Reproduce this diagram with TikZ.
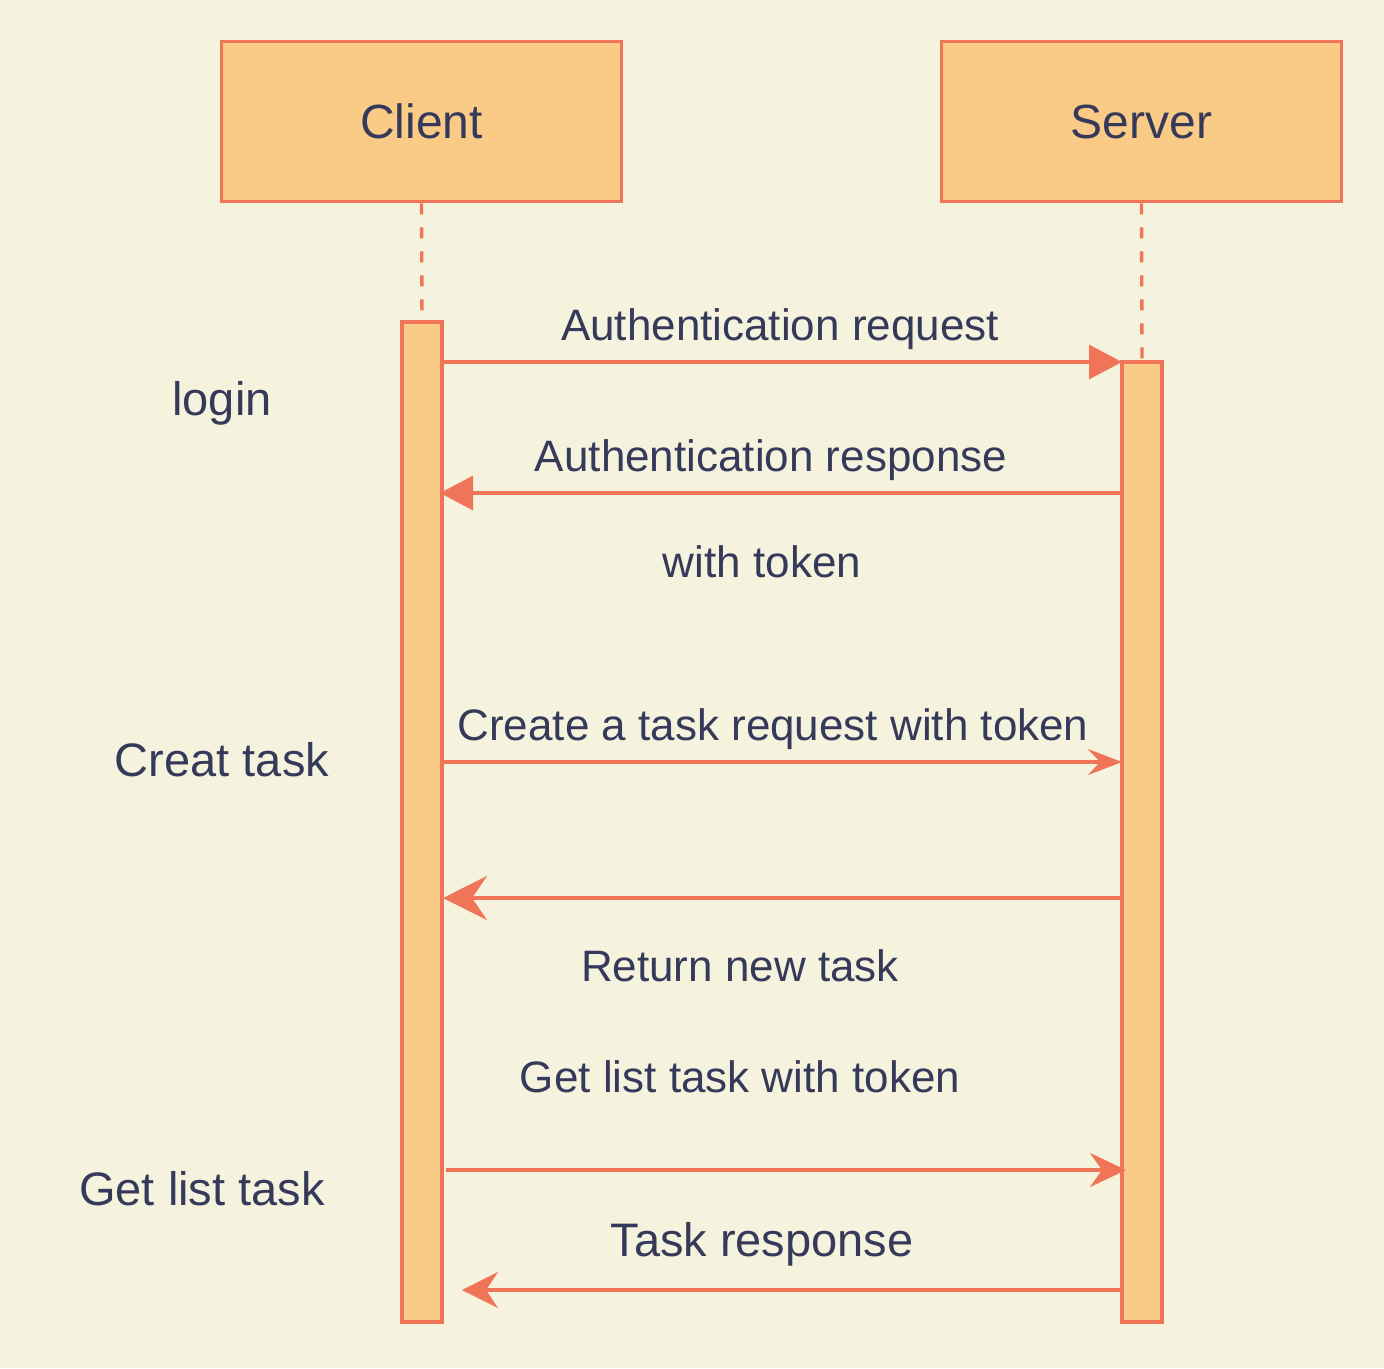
\documentclass[tikz,border=0pt]{standalone}
\usepackage{fontspec}
\setmainfont{Liberation Sans}
\usetikzlibrary{arrows.meta}
\definecolor{bg}{HTML}{F5F2DE}
\definecolor{boxfill}{HTML}{FACA87}
\definecolor{edge}{HTML}{F07458}
\definecolor{ink}{HTML}{363A5A}
\begin{document}
\begin{tikzpicture}[x=1pt,y=-1pt,
  actor/.style={draw=edge,fill=boxfill,line width=3.6pt,minimum width=400pt,minimum height=160pt,inner sep=0pt,text=ink,font=\fontsize{48}{56}\selectfont},
  actbar/.style={draw=edge,fill=boxfill,line width=3.6pt,minimum width=40pt,inner sep=0pt},
  life/.style={draw=edge,line width=3.4pt,dash pattern=on 11pt off 13pt},
  msg/.style={draw=edge,line width=3.3pt},
  lbl/.style={text=ink,anchor=base,inner sep=0pt,font=\fontsize{44}{52}\selectfont},
  biglbl/.style={text=ink,anchor=base,inner sep=0pt,font=\fontsize{47}{56}\selectfont},
  tri/.style={-{Triangle[length=33pt,width=34pt]}},
]
\fill[bg] (0,0) rectangle (1384,1368);
\useasboundingbox (0,0) rectangle (1384,1368);
% actors
\node[actor] (client) at (421.5,121.5) {Client};
\node[actor] (server) at (1141.5,121.5) {Server};
% activation bars
\node[actbar,minimum height=1000pt] (cbar) at (422,822) {};
\node[actbar,minimum height=960pt] (sbar) at (1142,842) {};
% lifelines
\draw[life] (client.south) -- (cbar.north);
\draw[life] (server.south) -- (sbar.north);
% message end points
\coordinate (m1s) at (443,362);  \coordinate (m1e) at (1122,362);
\coordinate (m2s) at (1121,493); \coordinate (m2e) at (440,493);
\coordinate (m3s) at (443,762);  \coordinate (m3e) at (1122,762);
\coordinate (m4s) at (1121,898); \coordinate (m4e) at (443,898);
\coordinate (m5s) at (446,1170); \coordinate (m5e) at (1126,1170);
\coordinate (m6s) at (1121,1290); \coordinate (m6e) at (462,1290);
\draw[msg,tri] (m1s) -- (m1e);
\draw[msg,tri] (m2s) -- (m2e);
\draw[msg,-{Stealth[length=34pt,width=26pt,inset=12pt]}] (m3s) -- (m3e);
\draw[msg,-{Stealth[length=44pt,width=44pt,inset=15pt]}] (m4s) -- (m4e);
\draw[msg,-{Stealth[length=36pt,width=34pt,inset=12pt]}] (m5s) -- (m5e);
\draw[msg,-{Stealth[length=36pt,width=36pt,inset=12pt]}] (m6s) -- (m6e);
% message labels
\node[lbl] (t1) at (780,340) {Authentication request};
\node[lbl] (t2) at (771,471) {Authentication response};
\node[lbl] (t2b) at (762,577) {with token};
\node[lbl] (t3) at (773,740) {Create a task request with token};
\node[lbl] (t4) at (740,981) {Return new task};
\node[lbl] (t5) at (740,1092) {Get list task with token};
\node[biglbl] (t6) at (762,1256) {Task response};
% side labels
\node[biglbl] (s1) at (222,415) {login};
\node[biglbl] (s2) at (222,776) {Creat task};
\node[biglbl] (s3) at (202,1205) {Get list task};
\end{tikzpicture}
\end{document}
